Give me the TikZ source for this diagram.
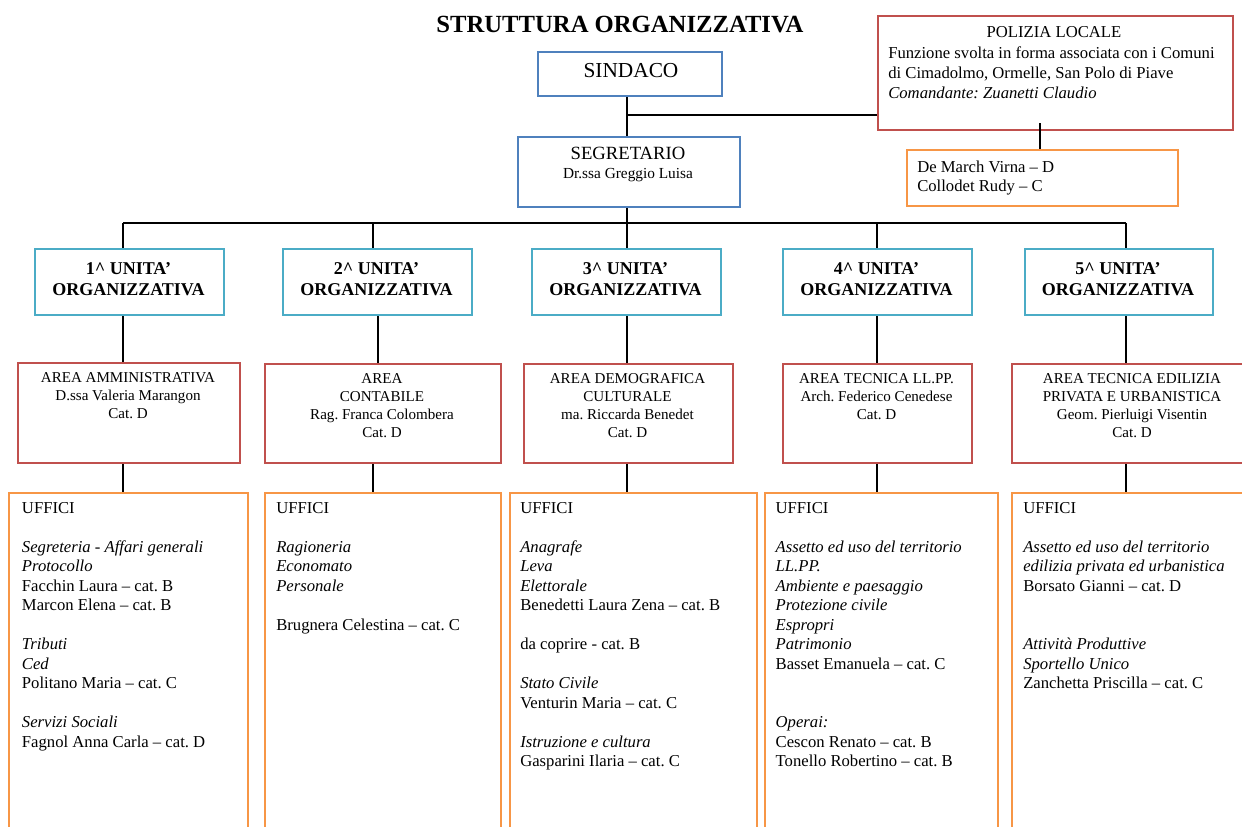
\documentclass[tikz,border=0pt]{standalone}
\usepackage{fontspec}
\setmainfont{Liberation Serif}
\frenchspacing
\definecolor{cBlue}{RGB}{79,129,189}
\definecolor{cCyan}{RGB}{75,172,198}
\definecolor{cRed}{RGB}{192,80,77}
\definecolor{cOrange}{RGB}{247,150,70}
\begin{document}
\frenchspacing
\begin{tikzpicture}[x=0.75pt,y=-0.75pt,
  bx/.style={draw, rectangle, inner sep=0pt, anchor=north west, line width=1.8pt},
  wh/.style 2 args={minimum width=#1*0.75pt, minimum height=#2*0.75pt},
  blubox/.style={bx, draw=cBlue},
  cyanbox/.style={bx, draw=cCyan},
  redbox/.style={bx, draw=cRed},
  orabox/.style={bx, draw=cOrange},
  conn/.style={draw=black, line width=1.3pt},
  txt/.style={inner sep=0pt, font={\fontsize{12.5}{14.6}\selectfont}},
  uffitxt/.style={txt, anchor=north west, align=left},
  unittxt/.style={inner sep=0pt, anchor=north, align=center, font={\bfseries\fontsize{13.5}{15.75}\selectfont}},
  areatxt/.style={inner sep=0pt, anchor=north, align=center, font={\fontsize{11.3}{13.6}\selectfont}},
]
\useasboundingbox (0,0) rectangle (1242,827);
\clip (0,0) rectangle (1242,827);

% title
\node[inner sep=0pt, font={\bfseries\fontsize{18.5}{20}\selectfont}] (title) at (620,25) {STRUTTURA ORGANIZZATIVA};

% boxes
\node[blubox, wh={184}{44}] (sind) at (537,51) {};
\node[blubox, wh={222}{70}] (segr) at (517,136) {};
\node[redbox, wh={355}{114}] (pol) at (877,15) {};
\node[orabox, wh={271}{56}] (dem) at (906,149) {};

\node[cyanbox, wh={189}{66}] (u1) at (34,248) {};
\node[cyanbox, wh={189}{66}] (u2) at (282,248) {};
\node[cyanbox, wh={189}{66}] (u3) at (531,248) {};
\node[cyanbox, wh={189}{66}] (u4) at (782,248) {};
\node[cyanbox, wh={188}{66}] (u5) at (1024,248) {};

\node[redbox, wh={222}{100}] (a1) at (17,362) {};
\node[redbox, wh={236}{99}] (a2) at (264,363) {};
\node[redbox, wh={209}{99}] (a3) at (523,363) {};
\node[redbox, wh={189}{99}] (a4) at (782,363) {};
\node[redbox, wh={250}{99}] (a5) at (1011,363) {};

\node[orabox, wh={239}{400}] (f1) at (8,492) {};
\node[orabox, wh={236}{400}] (f2) at (264,492) {};
\node[orabox, wh={247}{400}] (f3) at (508.5,492) {};
\node[orabox, wh={233}{400}] (f4) at (763.6,492) {};
\node[orabox, wh={260}{400}] (f5) at (1011,492) {};

% connector helper coordinates
\coordinate (jp) at (627,115);
\coordinate (pd) at (1040,0);
\coordinate (bus) at (627,223);
\coordinate (b1) at (123,223);
\coordinate (b2) at (373,223);
\coordinate (b3) at (627,223);
\coordinate (b4) at (877,223);
\coordinate (b5) at (1126,223);
\coordinate (c1) at (123,0);
\coordinate (c2) at (378,0);
\coordinate (c3) at (627,0);
\coordinate (c4) at (877,0);
\coordinate (c5) at (1126,0);
\coordinate (d1) at (123,0);
\coordinate (d2) at (373,0);
\coordinate (d3) at (627,0);
\coordinate (d4) at (877,0);
\coordinate (d5) at (1126,0);

% connectors
\draw[conn] (jp |- sind.south) -- (jp |- segr.north);
\draw[conn] (jp) -- (jp -| pol.west);
\draw[conn] ([yshift=6pt]pd |- pol.south) -- (pd |- dem.north);
\draw[conn] (bus |- segr.south) -- (bus);
\draw[conn] (b1) -- (b5);
\foreach \i in {1,...,5} {
  \draw[conn] (b\i) -- (b\i |- u\i.north);
  \draw[conn] (c\i |- u\i.south) -- (c\i |- a\i.north);
  \draw[conn] (d\i |- a\i.south) -- (d\i |- f\i.north);
}

% texts top
\node[inner sep=0pt, font={\fontsize{16}{18}\selectfont}] (sindt) at (631,70.5) {SINDACO};
\node[inner sep=0pt, anchor=north, font={\fontsize{14}{16}\selectfont}] (segrt1) at (628,146.5) {SEGRETARIO};
\node[inner sep=0pt, anchor=north, font={\fontsize{11.5}{13}\selectfont}] (segrt2) at (628,168) {Dr.ssa Greggio Luisa};

\node[txt, anchor=north] (polt1) at (1054,26.5) {POLIZIA LOCALE};
\node[uffitxt, font={\fontsize{12.5}{15}\selectfont}] (polt2) at (888,47) {Funzione svolta in forma associata con i Comuni\\
di Cimadolmo, Ormelle, San Polo di Piave\\
\textit{Comandante: Zuanetti Claudio}};
\node[uffitxt, font={\fontsize{12.5}{13.8}\selectfont}] (demt) at (917,161) {De March Virna – D\\Collodet Rudy – C};

% unit texts
\node[unittxt] (u1t) at (128.5,262.5) {1\textasciicircum{} UNITA’\\ORGANIZZATIVA};
\node[unittxt] (u2t) at (376.5,262.5) {2\textasciicircum{} UNITA’\\ORGANIZZATIVA};
\node[unittxt] (u3t) at (625.5,262.5) {3\textasciicircum{} UNITA’\\ORGANIZZATIVA};
\node[unittxt] (u4t) at (876.5,262.5) {4\textasciicircum{} UNITA’\\ORGANIZZATIVA};
\node[unittxt] (u5t) at (1118,262.5) {5\textasciicircum{} UNITA’\\ORGANIZZATIVA};

% area texts
\node[areatxt] (a1t) at (128,372) {AREA AMMINISTRATIVA\\D.ssa Valeria Marangon\\Cat. D};
\node[areatxt] (a2t) at (382,373) {AREA\\CONTABILE\\Rag. Franca Colombera\\Cat. D};
\node[areatxt] (a3t) at (627.5,373) {AREA DEMOGRAFICA\\CULTURALE\\ma. Riccarda Benedet\\Cat. D};
\node[areatxt] (a4t) at (876.5,373) {AREA TECNICA LL.PP.\\Arch. Federico Cenedese\\Cat. D};
\node[areatxt] (a5t) at (1132,373) {AREA TECNICA EDILIZIA\\PRIVATA E URBANISTICA\\Geom. Pierluigi Visentin\\Cat. D};

% uffici texts
\node[uffitxt] (f1t) at (21.7,502.2) {UFFICI\\ ~\\
\textit{Segreteria - Affari generali}\\
\textit{Protocollo}\\
Facchin Laura – cat. B\\
Marcon Elena – cat. B\\ ~\\
\textit{Tributi}\\
\textit{Ced}\\
Politano Maria – cat. C\\ ~\\
\textit{Servizi Sociali}\\
Fagnol Anna Carla – cat. D};

\node[uffitxt] (f2t) at (276,502.2) {UFFICI\\ ~\\
\textit{Ragioneria}\\
\textit{Economato}\\
\textit{Personale}\\ ~\\
Brugnera Celestina – cat. C};

\node[uffitxt] (f3t) at (520,502.2) {UFFICI\\ ~\\
\textit{Anagrafe}\\
\textit{Leva}\\
\textit{Elettorale}\\
Benedetti Laura Zena – cat. B\\ ~\\
da coprire - cat. B\\ ~\\
\textit{Stato Civile}\\
Venturin Maria – cat. C\\ ~\\
\textit{Istruzione e cultura}\\
Gasparini Ilaria – cat. C};

\node[uffitxt] (f4t) at (775.4,502.2) {UFFICI\\ ~\\
\textit{Assetto ed uso del territorio}\\
\textit{LL.PP.}\\
\textit{Ambiente e paesaggio}\\
\textit{Protezione civile}\\
\textit{Espropri}\\
\textit{Patrimonio}\\
Basset Emanuela – cat. C\\ ~\\ ~\\
\textit{Operai:}\\
Cescon Renato – cat. B\\
Tonello Robertino – cat. B};

\node[uffitxt] (f5t) at (1023,502.2) {UFFICI\\ ~\\
\textit{Assetto ed uso del territorio}\\
\textit{edilizia privata ed urbanistica}\\
Borsato Gianni – cat. D\\ ~\\ ~\\
\textit{Attività Produttive}\\
\textit{Sportello Unico}\\
Zanchetta Priscilla – cat. C};
\end{tikzpicture}
\end{document}
